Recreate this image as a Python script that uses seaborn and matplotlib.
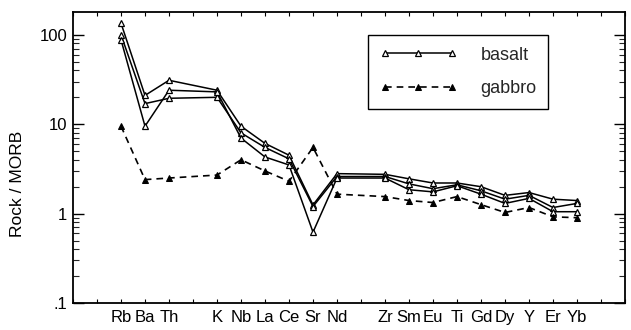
import matplotlib
matplotlib.use("Agg")
import matplotlib.pyplot as plt
import numpy as np
import pandas as pd
import seaborn as sns
from matplotlib.ticker import FixedLocator, FixedFormatter, LogLocator, NullFormatter

# x-axis slots (blank = gap in the diagram)
axis_slots = ["", "", "Rb", "Ba", "Th", "", "K", "Nb", "La", "Ce", "Sr", "Nd", "",
              "Zr", "Sm", "Eu", "Ti", "Gd", "Dy", "Y", "Er", "Yb", "", ""]
elements = ["Rb", "Ba", "Th", "K", "Nb", "La", "Ce", "Sr", "Nd",
            "Zr", "Sm", "Eu", "Ti", "Gd", "Dy", "Y", "Er", "Yb"]

basalt_1 = [135, 21, 31, 24, 9.5, 6.1, 4.5, 1.25, 2.8, 2.75, 2.45, 2.2, 2.2, 2.0, 1.6, 1.72, 1.45, 1.4]
basalt_2 = [100, 17, 19.5, 20, 8.0, 5.5, 4.1, 1.2, 2.6, 2.6, 2.15, 1.9, 2.1, 1.8, 1.45, 1.6, 1.17, 1.3]
basalt_3 = [88, 9.5, 24, 23, 7.0, 4.3, 3.5, 0.62, 2.5, 2.5, 1.85, 1.75, 2.05, 1.65, 1.3, 1.48, 1.05, 1.05]
gabbro = [9.5, 2.4, 2.5, 2.7, 4.0, 3.0, 2.3, 5.5, 1.65, 1.55, 1.4, 1.33, 1.55, 1.26, 1.03, 1.17, 0.92, 0.9]

y_ticks = [0.1, 1, 10, 100]
y_tick_labels = [".1", "1", "10", "100"]

rows = []
for name, rock, vals in [("b1", "basalt", basalt_1), ("b2", "basalt", basalt_2),
                         ("b3", "basalt", basalt_3), ("g1", "gabbro", gabbro)]:
    for el, v in zip(elements, vals):
        rows.append({"element": el, "pos": axis_slots.index(el), "value": v,
                     "sample": name, "rock": rock})
df = pd.DataFrame(rows)

sns.set_theme(style="ticks")
plt.rcParams["font.family"] = ["Liberation Sans", "DejaVu Sans"]

fig = plt.figure(figsize=(6.31, 3.30), dpi=100)
ax = fig.add_axes([73 / 631, 1 - 303 / 330, 552 / 631, 291 / 330])

sns.lineplot(data=df[df.rock == "basalt"], x="pos", y="value", units="sample",
             estimator=None, color="black", marker="^", markersize=4.5,
             markerfacecolor="white", markeredgecolor="black", markeredgewidth=0.9,
             linewidth=1.1, legend=False, ax=ax)
sns.lineplot(data=df[df.rock == "gabbro"], x="pos", y="value",
             estimator=None, color="black", marker="^", markersize=4.5,
             markerfacecolor="black", markeredgecolor="black",
             linewidth=1.2, linestyle=(0, (4, 3)), legend=False, ax=ax)

lines = ax.get_lines()
for ln in lines[:3]:
    ln.set_markerfacecolor("white")
    ln.set_markeredgecolor("black")
lines[3].set_markerfacecolor("black")
lines[3].set_markeredgecolor("black")

ax.set_yscale("log")
ax.set_ylim(0.1, 180)
ax.set_xlim(0, len(axis_slots) - 1)

ax.xaxis.set_major_locator(FixedLocator(range(len(axis_slots))))
ax.xaxis.set_major_formatter(FixedFormatter(axis_slots))
ax.yaxis.set_major_locator(FixedLocator(y_ticks))
ax.yaxis.set_major_formatter(FixedFormatter(y_tick_labels))
ax.yaxis.set_minor_locator(LogLocator(base=10, subs=np.arange(2, 10)))
ax.yaxis.set_minor_formatter(NullFormatter())

ax.tick_params(axis="x", which="major", direction="in", length=3, width=0.8,
               top=True, bottom=True, labelsize=12, pad=5, colors="black")
ax.tick_params(axis="y", which="major", direction="in", length=8, width=1.0,
               left=True, right=True, labelsize=12, pad=4, colors="black")
ax.tick_params(axis="y", which="minor", direction="in", length=4, width=0.8,
               left=True, right=True)

for s in ax.spines.values():
    s.set_visible(True)
    s.set_linewidth(1.3)
    s.set_color("black")

ax.set_xlabel("")
ax.set_ylabel("Rock / MORB", fontsize=12.5, color="black")
ax.yaxis.set_label_coords(-0.087, 0.41)

leg = ax.legend(handles=[lines[0], lines[3]], labels=["basalt", "gabbro"],
                numpoints=3, loc="upper left", bbox_to_anchor=(0.534, 0.921),
                borderaxespad=0, fontsize=13, handlelength=4.3, handletextpad=1.3,
                labelspacing=0.9, borderpad=0.65, fancybox=False, framealpha=1)
leg.get_frame().set_edgecolor("black")
leg.get_frame().set_linewidth(1.0)

fig.savefig("out.png", dpi=100, facecolor="white")
